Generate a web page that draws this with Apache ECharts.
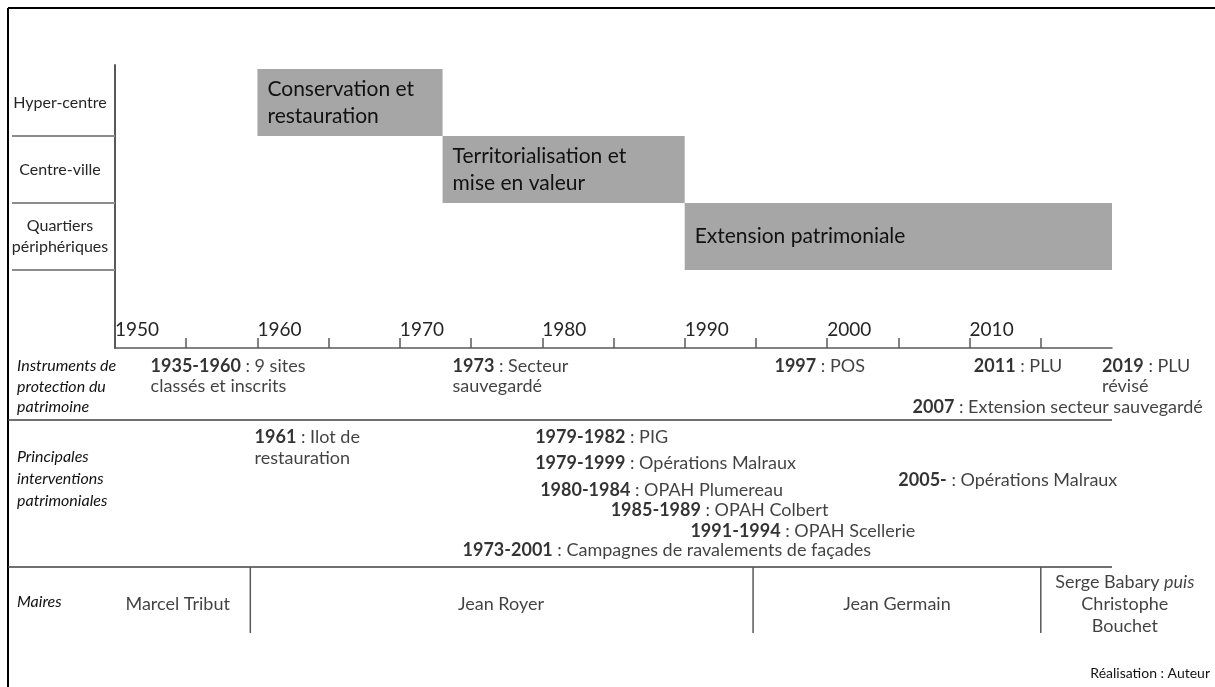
<!DOCTYPE html>
<html>
<head>
<meta charset="utf-8">
<title>Frise patrimoniale</title>
<script src="https://cdn.jsdelivr.net/npm/echarts@6/dist/echarts.min.js"></script>
<style>
  html, body { margin: 0; padding: 0; background: #fff; }
  #frise { width: 1215px; height: 687px; }
</style>
</head>
<body>
<div id="frise"></div>
<script>
// echelles (axe vertical)
const rows = ['Hyper-centre', 'Centre-ville', 'Quartiers\npériphériques'];

// grandes phases
const phaseNames = ['Conservation et\nrestauration', 'Territorialisation et\nmise en valeur', 'Extension patrimoniale'];
const phaseStart = [1960, 1973, 1990];
const phaseEnd = [1973, 1990, 2020];
const phaseRow = [0, 1, 2];

// axe du temps
const yearMin = 1950;
const yearMax = 2020;
const labelYears = [1950, 1960, 1970, 1980, 1990, 2000, 2010];

// instruments de protection du patrimoine
const instrDates = ['1935-1960', '1973', '1997', '2011', '2019', '2007'];
const instrTexts = [' : 9 sites\nclassés et inscrits', ' : Secteur\nsauvegardé', ' : POS', ' : PLU', ' : PLU\nrévisé', ' : Extension secteur sauvegardé'];
const instrAt = [1952.5, 1973.7, 1996.3, 2010.3, 2019.3, 2006];

// principales interventions patrimoniales
const interDates = ['1961', '1979-1982', '1979-1999', '1980-1984', '1985-1989', '1991-1994', '1973-2001', '2005-'];
const interTexts = [' : Ilot de\nrestauration', ' : PIG', ' : Opérations Malraux', ' : OPAH Plumereau', ' : OPAH Colbert', ' : OPAH Scellerie', ' : Campagnes de ravalements de façades', ' : Opérations Malraux'];
const interAt = [1959.8, 1979.5, 1979.5, 1979.85, 1984.8, 1990.4, 1974.4, 2005];

// maires
const mayors = ['Marcel Tribut', 'Jean Royer', 'Jean Germain', 'Serge Babary {i|puis}\nChristophe\nBouchet'];
const mayorAt = [1954.4, 1977.1, 2004.9, 2020.9];
const mayorBreaks = [1959.5, 1994.8, 2015];

// mise en page (pixels, zone sous l'axe)
const instrLine = [366, 366, 366, 366, 366, 407];
const interLine = [437, 437, 463, 490, 510, 531, 550, 480];
const ruleLine = [420, 567];
const mayorLine = 604;
const mayorRule = [567, 633];
const frameX = 8;

const font = 'Lato, "Open Sans", sans-serif';
const ink = '#111';

let myChart = echarts.init(document.getElementById('frise'));

let notes = [];
function addNote (at, lineY, date, text, lh, align) {
  notes.push({
    value: [at, lineY - lh / 2],
    label: {
      formatter: '{b|' + date + '}' + text,
      align: align || 'left',
      lineHeight: lh,
      rich: { b: { fontWeight: 'bold', fontSize: 18, fontFamily: font, color: '#000', lineHeight: lh } }
    }
  });
}
for (let i = 0; i < instrDates.length; i++) addNote(instrAt[i], instrLine[i], instrDates[i], instrTexts[i], 20.5);
for (let i = 0; i < interDates.length; i++) addNote(interAt[i], interLine[i], interDates[i], interTexts[i], 21);

let mayorData = mayors.map((m, i) => ({ value: [mayorAt[i], mayorLine], label: { formatter: m } }));

myChart.setOption({
  animation: false,
  grid: [
    { left: 115, right: 103, top: 65, bottom: 339 },
    { left: 115, right: 103, top: 348, bottom: 0 }
  ],
  xAxis: [{
    type: 'value',
    position: 'bottom',
    min: yearMin,
    max: yearMax,
    interval: 5,
    splitLine: { show: false },
    axisLine: { onZero: false, lineStyle: { color: '#595959', width: 1.5 } },
    axisTick: { show: true, inside: true, length: 10, lineStyle: { color: '#595959', width: 1.5 } },
    axisLabel: {
      inside: true,
      margin: 9,
      align: 'left',
      showMinLabel: true,
      showMaxLabel: false,
      fontSize: 19,
      fontFamily: font,
      color: '#262626',
      formatter: v => labelYears.includes(v) ? String(v) : ''
    }
  }, {
    gridIndex: 1, type: 'value', min: yearMin, max: yearMax, show: false
  }],
  yAxis: [{
    type: 'value',
    inverse: true,
    min: -0.06,
    max: 4.164,
    splitLine: { show: false },
    axisLine: { show: true, lineStyle: { color: '#595959', width: 2 } },
    axisTick: { show: true, customValues: [1, 2, 3], length: 103, lineStyle: { color: '#8c8c8c', width: 2 } },
    axisLabel: {
      customValues: [0.5, 1.5, 2.5],
      formatter: v => rows[Math.floor(v)],
      margin: 55,
      align: 'center',
      fontSize: 16,
      lineHeight: 21,
      fontFamily: font,
      color: '#262626'
    }
  }, {
    gridIndex: 1, type: 'value', min: 348, max: 687, inverse: true, show: false
  }],
  graphic: [
    { type: 'line', shape: { x1: frameX, y1: 8, x2: frameX, y2: 687 }, style: { stroke: '#000', lineWidth: 2 } },
    { type: 'line', shape: { x1: frameX, y1: 8, x2: 1215, y2: 8 }, style: { stroke: '#000', lineWidth: 2 } },
    { type: 'text', left: 17, top: 356, style: { text: 'Instruments de\nprotection du\npatrimoine', font: 'italic 16px ' + font, lineHeight: 20.5, fill: ink } },
    { type: 'text', left: 17, top: 446, style: { text: 'Principales\ninterventions\npatrimoniales', font: 'italic 16px ' + font, lineHeight: 22, fill: ink } },
    { type: 'text', left: 17, top: 594, style: { text: 'Maires', font: 'italic 16px ' + font, fill: ink } },
    { type: 'text', right: 5, top: 666, style: { text: 'Réalisation : Auteur', font: '14px ' + font, fill: ink } }
  ],
  series: [{
    // phases
    type: 'custom',
    xAxisIndex: 0,
    yAxisIndex: 0,
    data: phaseStart.map((s, i) => [s, phaseEnd[i], phaseRow[i]]),
    renderItem: function (params, api) {
      let a = api.coord([api.value(0), api.value(2)]);
      let b = api.coord([api.value(1), api.value(2) + 1]);
      return {
        type: 'rect',
        shape: { x: a[0], y: a[1], width: b[0] - a[0], height: b[1] - a[1] },
        style: { fill: '#a6a6a6' },
        textContent: {
          style: { text: phaseNames[params.dataIndex], fill: ink, fontSize: 21, fontFamily: font, lineHeight: 27 }
        },
        textConfig: { position: 'insideLeft', distance: 10 }
      };
    }
  }, {
    // separations horizontales
    type: 'custom',
    xAxisIndex: 1,
    yAxisIndex: 1,
    clip: false,
    data: ruleLine.map(y => [yearMax, y]),
    renderItem: function (params, api) {
      let p = api.coord([api.value(0), api.value(1)]);
      return { type: 'line', shape: { x1: frameX, y1: p[1], x2: p[0], y2: p[1] }, style: { stroke: '#404040', lineWidth: 1.5 } };
    }
  }, {
    // mandats des maires
    type: 'custom',
    xAxisIndex: 1,
    yAxisIndex: 1,
    data: mayorBreaks.map(y => [y]),
    renderItem: function (params, api) {
      let a = api.coord([api.value(0), mayorRule[0]]);
      let b = api.coord([api.value(0), mayorRule[1]]);
      return { type: 'line', shape: { x1: a[0], y1: a[1], x2: b[0], y2: b[1] }, style: { stroke: '#595959', lineWidth: 1.5 } };
    }
  }, {
    // annotations datees
    type: 'scatter',
    xAxisIndex: 1,
    yAxisIndex: 1,
    clip: false,
    silent: true,
    symbolSize: 0,
    data: notes,
    label: {
      show: true,
      position: [0, 0],
      verticalAlign: 'top',
      fontSize: 18,
      fontFamily: font,
      color: ink
    }
  }, {
    // noms des maires
    type: 'scatter',
    xAxisIndex: 1,
    yAxisIndex: 1,
    clip: false,
    silent: true,
    symbolSize: 0,
    data: mayorData,
    label: {
      show: true,
      position: [0, 0],
      align: 'center',
      verticalAlign: 'middle',
      fontSize: 18,
      lineHeight: 22,
      fontFamily: font,
      color: ink,
      rich: { i: { fontStyle: 'italic', fontSize: 18, fontFamily: font, color: ink, lineHeight: 22 } }
    }
  }]
});
</script>
</body>
</html>
